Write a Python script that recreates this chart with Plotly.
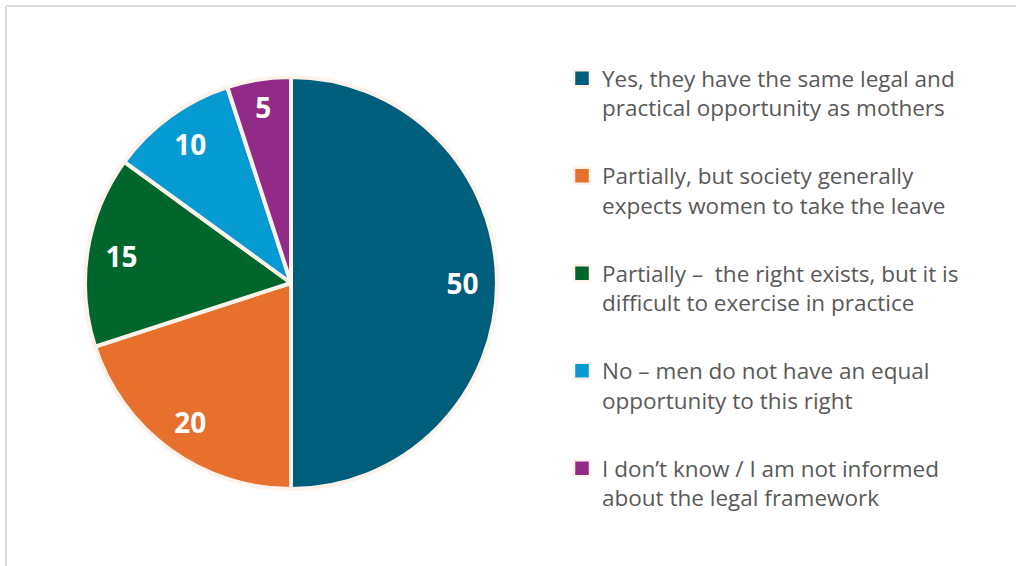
import plotly.graph_objects as go

labels = [
    "Yes, they have the same legal and<br>practical opportunity as mothers",
    "Partially, but society generally<br>expects women to take the leave",
    "Partially \u2013 \u00a0the right exists, but it is<br>difficult to exercise in practice",
    "No \u2013 men do not have an equal<br>opportunity to this right",
    "I don\u2019t know / I am not informed<br>about the legal framework",
]
values = [50, 20, 15, 10, 5]
colors = ["#005E7D", "#E8702D", "#00662C", "#059BD2", "#922B87"]
edge = "#FDF3EA"

dom = dict(x=[85 / 1016, 497 / 1016], y=[1 - 489 / 566, 1 - 77 / 566])

fig = go.Figure()
# main pie
fig.add_trace(
    go.Pie(
        labels=labels,
        values=values,
        sort=False,
        direction="clockwise",
        rotation=0,
        marker=dict(colors=colors, line=dict(color=edge, width=4)),
        textinfo="none",
        domain=dom,
        showlegend=False,
        hoverinfo="label+value",
    )
)
# transparent ring carrying the value labels near the rim
fig.add_trace(
    go.Pie(
        labels=labels,
        values=values,
        sort=False,
        direction="clockwise",
        rotation=0,
        hole=0.665,
        marker=dict(colors=["rgba(0,0,0,0)"] * len(values), line=dict(width=0)),
        textinfo="value",
        textposition="inside",
        insidetextorientation="horizontal",
        textfont=dict(family="Open Sans", size=28, color="white", weight="bold"),
        domain=dom,
        showlegend=False,
        hoverinfo="skip",
    )
)
# legend entries
for lab, col in zip(labels, colors):
    fig.add_trace(
        go.Scatter(
            x=[None], y=[None], mode="markers", name=lab, legendgroup=lab,
            marker=dict(symbol="square", size=16, color=col, line=dict(color=edge, width=2.5)),
            showlegend=True, hoverinfo="skip",
        )
    )

fig.update_layout(
    width=1016,
    height=566,
    margin=dict(l=0, r=0, t=0, b=0),
    paper_bgcolor="white",
    plot_bgcolor="white",
    xaxis=dict(visible=False),
    yaxis=dict(visible=False),
    legend=dict(
        x=562 / 1016,
        xanchor="left",
        y=1 - 57 / 566,
        yanchor="top",
        valign="top",
        tracegroupgap=36,
        traceorder="grouped",
        font=dict(family="Open Sans", size=22.5, color="#595959"),
        bgcolor="rgba(0,0,0,0)",
    ),
    shapes=[
        dict(type="line", xref="paper", yref="paper", x0=6 / 1016, x1=1.0, y0=1 - 6 / 566, y1=1 - 6 / 566,
             line=dict(color="#D9D9D9", width=2)),
        dict(type="line", xref="paper", yref="paper", x0=6 / 1016, x1=6 / 1016, y0=0, y1=1 - 6 / 566,
             line=dict(color="#D9D9D9", width=2)),
    ],
)

fig.write_html("out.html")
